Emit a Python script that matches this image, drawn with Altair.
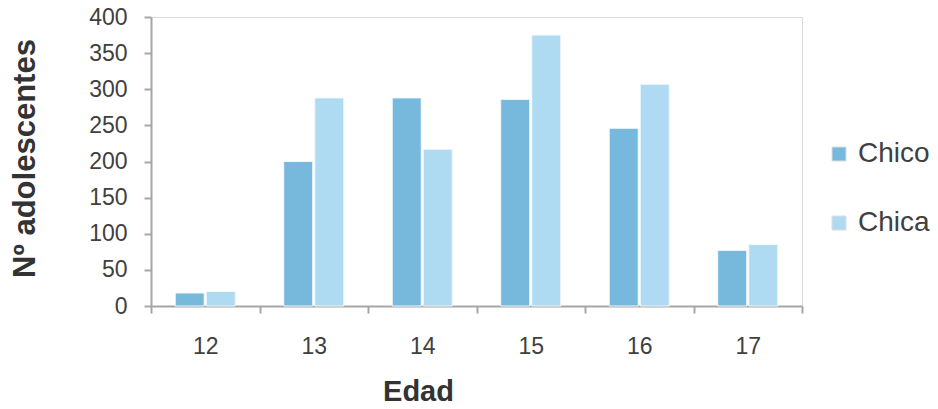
import altair as alt
import pandas as pd

edades = ["12", "13", "14", "15", "16", "17"]
chico = [18, 200, 288, 286, 246, 77]
chica = [20, 288, 217, 375, 307, 85]
series = ["Chico", "Chica"]
colores = ["#76B9DC", "#AEDAF2"]

rows = []
for i, e in enumerate(edades):
    rows.append({"Edad": e, "Sexo": "Chico", "N": chico[i]})
    rows.append({"Edad": e, "Sexo": "Chica", "N": chica[i]})
df = pd.DataFrame(rows)

FONT = "Liberation Sans"

chart = alt.Chart(df).mark_bar(stroke="#f4f9fc", strokeWidth=1).encode(
    x=alt.X("Edad:N", sort=edades,
            scale=alt.Scale(paddingInner=0, paddingOuter=0),
            axis=alt.Axis(title="Edad", labelAngle=0, tickBand="extent",
                          labelFontSize=23, labelColor="#404040", labelFont=FONT,
                          labelPadding=22, tickSize=7, tickColor="#a6a6a6", tickWidth=2,
                          domainColor="#a6a6a6", domainWidth=2,
                          titleFont=FONT, titleFontSize=29, titleFontWeight="bold",
                          titleColor="#333333", titlePadding=19, titleX=267)),
    xOffset=alt.XOffset("Sexo:N", sort=series,
                        scale=alt.Scale(paddingInner=0.065, paddingOuter=0.78)),
    y=alt.Y("N:Q", scale=alt.Scale(domain=[0, 400], nice=False),
            axis=alt.Axis(title="Nº adolescentes", values=list(range(0, 401, 50)),
                          grid=False, labelFontSize=23, labelColor="#404040", labelFont=FONT,
                          labelPadding=17, tickSize=7, tickColor="#a6a6a6", tickWidth=2,
                          domainColor="#a6a6a6", domainWidth=2,
                          titleFont=FONT, titleFontSize=31, titleFontWeight="bold",
                          titleColor="#333333", titleAngle=-90, titleX=-126, titleY=141,
                          titleBaseline="middle", titleAlign="center")),
    color=alt.Color("Sexo:N", sort=series,
                    scale=alt.Scale(domain=series, range=colores),
                    legend=alt.Legend(title=None, orient="none", legendX=674, legendY=123,
                                      symbolType="square", symbolSize=196,
                                      symbolStrokeColor="#dddddd", symbolStrokeWidth=1,
                                      labelFont=FONT, labelFontSize=28, labelColor="#404040",
                                      labelOffset=5, rowPadding=41, labelLimit=200)),
).properties(
    width=651, height=289,
    autosize=alt.AutoSizeParams(type="none"),
    padding={"left": 143, "top": 9, "right": 128, "bottom": 95},
).configure_view(stroke="#d9d9d9", strokeWidth=1)

chart.save("out.html", embed_options={"renderer": "svg", "actions": False})
